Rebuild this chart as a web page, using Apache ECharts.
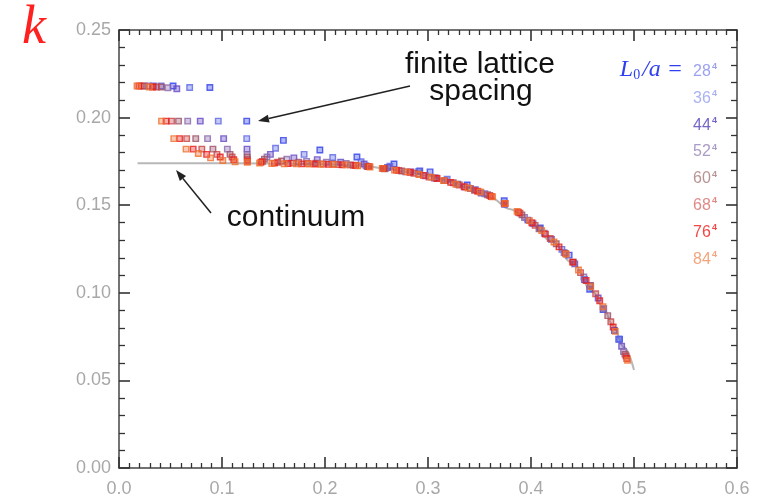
<!DOCTYPE html>
<html>
<head>
<meta charset="utf-8">
<script src="https://cdn.jsdelivr.net/npm/echarts@6/dist/echarts.min.js"></script>
<style>
  html, body { margin: 0; padding: 0; background: #fff; }
  #chart-container { width: 764px; height: 498px; }
</style>
</head>
<body>
<div id="chart-container"></div>
<script>
// tick labels
const xTickLabels = ['0.0', '0.1', '0.2', '0.3', '0.4', '0.5', '0.6'];
const yTickLabels = ['0.00', '0.05', '0.10', '0.15', '0.20', '0.25'];

// lattice sizes L0/a (shown as N^4)
const latticeSizes = ['28', '36', '44', '52', '60', '68', '76', '84'];
const markerColors = ['#2f40e8', '#5c66e4', '#6448c6', '#8a68ae', '#9c5068', '#c84444', '#e81c1c', '#f07030'];
const legendColors = ['#9da2ee', '#aab2f2', '#7766c6', '#aa9cc4', '#b89494', '#e08a88', '#f04848', '#f4a47c'];

// continuum curve
const contX = [0.018, 0.08, 0.14, 0.2, 0.24, 0.26, 0.28, 0.3, 0.32, 0.34, 0.36, 0.38, 0.4, 0.42, 0.44, 0.46, 0.47, 0.48, 0.49, 0.5];
const contY = [0.174, 0.174, 0.1738, 0.1734, 0.1722, 0.1708, 0.169, 0.1668, 0.164, 0.1598, 0.1545, 0.1477, 0.1394, 0.1294, 0.1172, 0.1007, 0.0915, 0.081, 0.069, 0.056];

// k vs momentum, one list per lattice size
const l28 = [[0.0525, 0.218], [0.0882, 0.2172], [0.124, 0.198], [0.1596, 0.187], [0.195, 0.1815], [0.231, 0.1775],
  [0.267, 0.1735], [0.292, 0.1695], [0.302, 0.169], [0.338, 0.1615], [0.374, 0.1525], [0.409, 0.137],
  [0.437, 0.1215], [0.452, 0.1075], [0.457, 0.102], [0.47, 0.0905], [0.481, 0.0785], [0.486, 0.0735]];
const l36 = [[0.0408, 0.218], [0.0686, 0.2172], [0.0964, 0.198], [0.124, 0.188], [0.152, 0.1825], [0.1797, 0.179],
  [0.2075, 0.1772], [0.235, 0.1748], [0.263, 0.1722], [0.291, 0.1693], [0.3186, 0.1648], [0.346, 0.1588],
  [0.374, 0.1512], [0.402, 0.1395], [0.430, 0.1248], [0.4575, 0.1042], [0.485, 0.0735]];
const l44 = [[0.0334, 0.218], [0.0561, 0.2165], [0.0789, 0.198], [0.1016, 0.188], [0.1243, 0.182], [0.147, 0.179],
  [0.1698, 0.177], [0.1925, 0.176], [0.2152, 0.1745], [0.238, 0.1735], [0.2607, 0.1715], [0.2834, 0.169],
  [0.3061, 0.1655], [0.3289, 0.162], [0.3516, 0.157], [0.3743, 0.1505], [0.397, 0.1415], [0.4198, 0.1305],
  [0.4425, 0.1165], [0.4652, 0.097], [0.488, 0.0695]];
const l52 = [[0.0283, 0.218], [0.0475, 0.217], [0.0667, 0.198], [0.086, 0.188], [0.1052, 0.182], [0.1244, 0.179],
  [0.1437, 0.1775], [0.1629, 0.1762], [0.1821, 0.175], [0.2013, 0.1745], [0.2206, 0.1738], [0.2398, 0.1725],
  [0.259, 0.171], [0.2783, 0.169], [0.2975, 0.1668], [0.3167, 0.164], [0.336, 0.1603], [0.3552, 0.1565],
  [0.3744, 0.151], [0.3937, 0.143], [0.4129, 0.134], [0.4321, 0.123], [0.4513, 0.109], [0.4706, 0.091], [0.4898, 0.0665]];
const l60 = [[0.0245, 0.218], [0.0412, 0.2175], [0.0578, 0.198], [0.0745, 0.188], [0.0912, 0.182], [0.1078, 0.179],
  [0.1245, 0.1775], [0.1412, 0.1762], [0.1578, 0.1752], [0.1745, 0.1745], [0.1912, 0.174], [0.2078, 0.1735],
  [0.2245, 0.173], [0.2412, 0.172], [0.2578, 0.1708], [0.2745, 0.1695], [0.2912, 0.1678], [0.3078, 0.1655],
  [0.3245, 0.1628], [0.3412, 0.1595], [0.3578, 0.156], [0.3745, 0.151], [0.3912, 0.1445], [0.4078, 0.1365],
  [0.4245, 0.128], [0.4412, 0.1175], [0.4578, 0.104], [0.4745, 0.087], [0.4912, 0.065]];
const l68 = [[0.0216, 0.218], [0.0363, 0.2175], [0.051, 0.198], [0.0657, 0.188], [0.0804, 0.182], [0.0951, 0.179],
  [0.1098, 0.1775], [0.1246, 0.176], [0.1393, 0.175], [0.154, 0.1745], [0.1687, 0.174], [0.1834, 0.1738],
  [0.1981, 0.1735], [0.2128, 0.1732], [0.2275, 0.1728], [0.2422, 0.172], [0.2569, 0.171], [0.2716, 0.1698],
  [0.2863, 0.1682], [0.301, 0.166], [0.3157, 0.164], [0.3304, 0.1615], [0.3451, 0.1585], [0.3599, 0.1555],
  [0.3746, 0.151], [0.3893, 0.1455], [0.404, 0.1385], [0.4187, 0.131], [0.4334, 0.1225], [0.4481, 0.1115],
  [0.4628, 0.0995], [0.4775, 0.0835], [0.4922, 0.064]];
const l76 = [[0.0193, 0.218], [0.0325, 0.2175], [0.0457, 0.198], [0.0588, 0.188], [0.072, 0.182], [0.0851, 0.179],
  [0.0983, 0.1775], [0.1114, 0.176], [0.1246, 0.175], [0.1378, 0.1745], [0.1509, 0.174], [0.1641, 0.1738],
  [0.1772, 0.1736], [0.1904, 0.1735], [0.2035, 0.1733], [0.2167, 0.173], [0.2299, 0.1727], [0.243, 0.172],
  [0.2562, 0.171], [0.2693, 0.17], [0.2825, 0.1688], [0.2956, 0.167], [0.3088, 0.1652], [0.322, 0.163],
  [0.3351, 0.1605], [0.3483, 0.158], [0.3614, 0.155], [0.3746, 0.151], [0.3877, 0.146], [0.4009, 0.14],
  [0.414, 0.1335], [0.4272, 0.1262], [0.4404, 0.1175], [0.4535, 0.107], [0.4667, 0.0955], [0.4798, 0.0805], [0.493, 0.0625]];
const l84 = [[0.0175, 0.218], [0.0294, 0.2175], [0.0413, 0.198], [0.0532, 0.188], [0.0651, 0.182], [0.077, 0.1795],
  [0.0889, 0.177], [0.1008, 0.1755], [0.1127, 0.1748], [0.1246, 0.1745], [0.1365, 0.174], [0.1484, 0.1738],
  [0.1604, 0.1737], [0.1723, 0.1736], [0.1842, 0.1735], [0.1961, 0.1734], [0.208, 0.1732], [0.2199, 0.173],
  [0.2318, 0.1725], [0.2437, 0.1718], [0.2556, 0.171], [0.2675, 0.17], [0.2794, 0.169], [0.2913, 0.1675],
  [0.3032, 0.166], [0.3151, 0.164], [0.327, 0.162], [0.3389, 0.1598], [0.3508, 0.1575], [0.3627, 0.1548],
  [0.3746, 0.151], [0.3865, 0.1465], [0.3985, 0.1412], [0.4104, 0.1355], [0.4223, 0.129], [0.4342, 0.122],
  [0.4461, 0.113], [0.458, 0.1035], [0.4699, 0.092], [0.4818, 0.078], [0.4937, 0.0615]];
const latticeData = [l28, l36, l44, l52, l60, l68, l76, l84];

let dom = document.getElementById('chart-container');
let myChart = echarts.init(dom, null, { renderer: 'canvas' });

function tint(hex, a) {
  let n = parseInt(hex.slice(1), 16);
  return 'rgba(' + (n >> 16) + ',' + ((n >> 8) & 255) + ',' + (n & 255) + ',' + a + ')';
}

// arrow = line + filled head
function arrow(x1, y1, x2, y2) {
  let dx = x2 - x1, dy = y2 - y1, len = Math.sqrt(dx * dx + dy * dy);
  let ux = dx / len, uy = dy / len, hl = 11, hw = 4;
  let bx = x2 - ux * hl, by = y2 - uy * hl;
  return [
    { type: 'line', shape: { x1: x1, y1: y1, x2: bx, y2: by }, style: { stroke: '#222', lineWidth: 1.5 } },
    { type: 'polygon', shape: { points: [[x2, y2], [bx - uy * hw, by + ux * hw], [bx + uy * hw, by - ux * hw]] }, style: { fill: '#222' } }
  ];
}

const frame = { show: true, onZero: false, lineStyle: { color: '#444', width: 1.5 } };
const tick = { show: true, inside: true, length: 11, lineStyle: { color: '#333', width: 1.6 } };
const minorX = { show: true, splitNumber: 10, length: 5, lineStyle: { color: '#333', width: 1.3 } };
const minorY = { show: true, splitNumber: 5, length: 6, lineStyle: { color: '#333', width: 1.3 } };

let graphics = [
  { type: 'text', x: 34, y: 29, style: { text: 'k', font: 'italic 54px "Liberation Serif"', fill: '#ff2020', align: 'center', verticalAlign: 'middle' } },
  { type: 'text', x: 480, y: 65, style: { text: 'finite lattice', font: '30px "Liberation Sans"', fill: '#111', align: 'center', verticalAlign: 'middle' } },
  { type: 'text', x: 481, y: 92, style: { text: 'spacing', font: '30px "Liberation Sans"', fill: '#111', align: 'center', verticalAlign: 'middle' } },
  { type: 'text', x: 296, y: 218, style: { text: 'continuum', font: '30px "Liberation Sans"', fill: '#111', align: 'center', verticalAlign: 'middle' } },
  {
    type: 'text', x: 683, y: 70,
    style: {
      text: '{i|L}{s|0}{i|/a =}', align: 'right', verticalAlign: 'middle',
      rich: {
        i: { font: 'italic 24px "Liberation Serif"', fill: '#3040f0' },
        s: { font: '14px "Liberation Serif"', fill: '#3040f0', verticalAlign: 'bottom', padding: [8, 2, 0, 0] }
      }
    }
  }
].concat(arrow(410, 86, 258, 121), arrow(211, 213, 176, 170));

latticeSizes.forEach(function (s, i) {
  let base = 77 + i * 26.8;
  graphics.push({ type: 'text', x: 693, y: base - 5.5, style: { text: s, font: '16px "Liberation Sans"', fill: legendColors[i], align: 'left', verticalAlign: 'middle' } });
  graphics.push({ type: 'text', x: 712, y: base - 10, style: { text: '4', font: 'bold 9px "Liberation Sans"', fill: legendColors[i], align: 'left', verticalAlign: 'middle' } });
});

let series = [{
  type: 'line',
  data: contX.map(function (x, i) { return [x, contY[i]]; }),
  symbol: 'none',
  smooth: 0.4,
  smoothMonotone: 'x',
  lineStyle: { color: '#b8b8b8', width: 2 },
  z: 1
}];
latticeData.forEach(function (d, i) {
  series.push({
    type: 'scatter',
    name: latticeSizes[i],
    data: d,
    symbol: 'rect',
    symbolSize: 5.5,
    itemStyle: { color: tint(markerColors[i], 0.45), borderColor: markerColors[i], borderWidth: 1.4 },
    z: 2 + i
  });
});

let option = {
  animation: false,
  grid: { left: 119, right: 27, top: 30, bottom: 30 },
  xAxis: [
    {
      type: 'value', min: 0, max: 0.6, interval: 0.1, position: 'bottom',
      axisLine: frame, axisTick: tick, minorTick: minorX,
      splitLine: { show: false },
      axisLabel: { color: '#a8a8a8', fontSize: 18, margin: 12, fontFamily: 'Liberation Sans', formatter: function (v, idx) { return xTickLabels[idx]; } }
    },
    {
      type: 'value', min: 0, max: 0.6, interval: 0.1, position: 'top',
      axisLine: frame, axisTick: tick, minorTick: minorX,
      splitLine: { show: false }, axisLabel: { show: false }
    }
  ],
  yAxis: [
    {
      type: 'value', min: 0, max: 0.25, interval: 0.05, position: 'left',
      axisLine: frame, axisTick: tick, minorTick: minorY,
      splitLine: { show: false },
      axisLabel: { color: '#a8a8a8', fontSize: 18, margin: 8, fontFamily: 'Liberation Sans', formatter: function (v, idx) { return yTickLabels[idx]; } }
    },
    {
      type: 'value', min: 0, max: 0.25, interval: 0.05, position: 'right',
      axisLine: frame, axisTick: tick, minorTick: minorY,
      splitLine: { show: false }, axisLabel: { show: false }
    }
  ],
  graphic: graphics,
  series: series
};

if (option && typeof option === 'object') {
  myChart.setOption(option);
}

window.addEventListener('resize', myChart.resize);
</script>
</body>
</html>
